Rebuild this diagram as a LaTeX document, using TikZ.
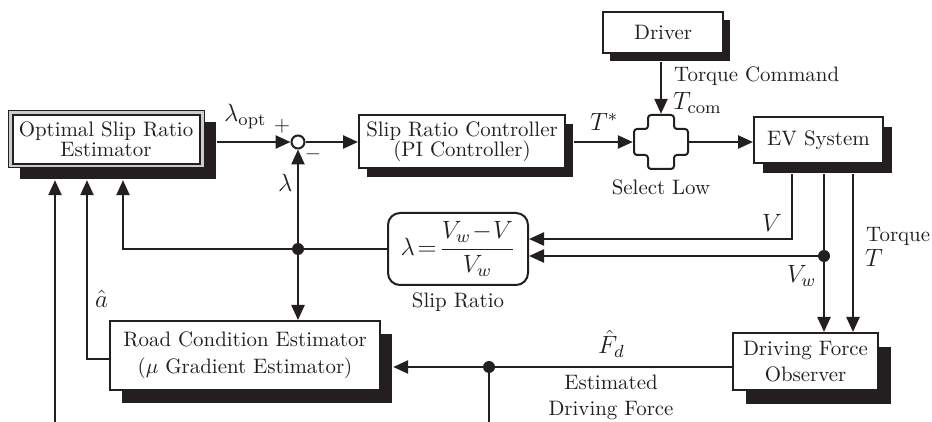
\RequirePackage{fix-cm}
\documentclass[tikz,border=0pt]{standalone}
\usetikzlibrary{arrows.meta,calc}
\definecolor{ink}{RGB}{35,31,32}
\begin{document}
\begin{tikzpicture}[x=0.5pt,y=-0.5pt,
  font=\fontsize{10.45}{12}\selectfont,
  line width=1.2pt, color=ink,
  blk/.style={draw=ink, fill=white, line width=1pt, align=center, inner sep=0pt},
  shd/.style={fill=ink, draw=none, inner sep=0pt},
  arr/.style={-{Triangle[length=7.5pt,width=6.5pt]}},
  jdot/.style={circle, fill=ink, inner sep=0pt, minimum size=6pt},
  lbl/.style={inner sep=0pt},
  mlbl/.style={inner sep=0pt, font=\fontsize{12.5}{15}\selectfont}]
\useasboundingbox (0,0) rectangle (932,422);

% --- blocks with their drop shadows ---
\node[shd, minimum width=98pt, minimum height=28.5pt] (estS) at (118,150.5) {};
\node[draw=ink, line width=0.5pt, fill=gray!40, minimum width=98pt, minimum height=28.5pt, inner sep=0pt] (est) at (106,139.5) {};
\node[blk, minimum width=93.5pt, minimum height=24.5pt, font=\fontsize{10.45}{10}\selectfont] (estIn) at (est.center) {Optimal Slip Ratio\\Estimator};

\node[shd, minimum width=103pt, minimum height=26.5pt] (srcS) at (470,150.5) {};
\node[blk, minimum width=103pt, minimum height=26.5pt, font=\fontsize{10.45}{10}\selectfont] (src) at (462,141.5) {Slip Ratio Controller\\(PI Controller)};

\node[shd, minimum width=60pt, minimum height=20.5pt] (drvS) at (670,40.5) {};
\node[blk, minimum width=60pt, minimum height=20.5pt] (drv) at (663,32.5) {Driver};

\node[shd, minimum width=64.5pt, minimum height=23pt] (evS) at (827.5,150) {};
\node[blk, minimum width=64.5pt, minimum height=23pt] (ev) at (818.5,140) {EV System};

\node[blk, rounded corners=6pt, minimum width=70pt, minimum height=36pt, font=\fontsize{12.5}{15}\selectfont] (slip) at (458,249) {$\lambda\!=\!\displaystyle\frac{V_w\!-\!V}{V_w}$};

\node[shd, minimum width=135pt, minimum height=34.5pt] (roadS) at (257,368.5) {};
\node[blk, minimum width=135pt, minimum height=34.5pt, font=\fontsize{10.45}{13.5}\selectfont] (road) at (245,355.5) {Road Condition Estimator\\($\mu$ Gradient Estimator)};

\node[shd, minimum width=72.5pt, minimum height=28.5pt] (dfoS) at (818.5,375.5) {};
\node[blk, minimum width=72.5pt, minimum height=28.5pt, font=\fontsize{10.45}{13}\selectfont] (dfo) at (805.5,361.5) {Driving Force\\Observer};

% summing junction
\node[circle, draw=ink, line width=1pt, fill=white, minimum size=6.5pt, inner sep=0pt] (sum) at (298,142) {};

% select-low block (cross shape)
\node[minimum size=27pt, inner sep=0pt] (sel) at (661,142) {};
\draw[line width=1pt, rounded corners=1.5pt]
  ([shift={(-6.5pt,13.5pt)}]sel.center) -- ++(13pt,0) -- ++(0,-7pt) -- ++(7pt,0)
  -- ++(0,-13pt) -- ++(-7pt,0) -- ++(0,-7pt) -- ++(-13pt,0) -- ++(0,7pt)
  -- ++(-7pt,0) -- ++(0,13pt) -- ++(7pt,0) -- cycle;

% --- branch points and free ends ---
\coordinate (jl) at (298,249);
\coordinate (c1) at (123,249);
\coordinate (c2) at (87,359);
\coordinate (b1) at (55,422);
\coordinate (v1) at (792,239);
\coordinate (jw) at (824,256);
\coordinate (tT) at (853,256);
\coordinate (jf) at (489,367);
\coordinate (b2) at (489,422);

% --- connectors ---
\draw[arr] (sum.west -| estS.east) -- (sum.west);
\draw[arr] (sum.east) -- (sum.east -| src.west);
\draw[arr] (sel.west -| srcS.east) -- (sel.west);
\draw[arr] (sel.north |- drvS.south) -- (sel.north);
\draw[arr] (sel.east) -- (sel.east -| ev.west);
\draw[arr] (evS.south -| v1) -- (v1) -- (v1 -| slip.east);
\draw (evS.south -| jw) -- (jw);
\draw[arr] (jw) -- (jw -| slip.east);
\draw[arr] (jw) -- (jw |- dfo.north);
\draw[arr] (evS.south -| tT) -- (tT |- dfo.north);
\draw (slip.west) -- (jl);
\draw[arr] (jl) -- (c1) -- (c1 |- estS.south);
\draw[arr] (jl) -- (sum.south);
\draw[arr] (jl) -- (jl |- road.north);
\draw[arr] (road.west |- c2) -- (c2) -- (c2 |- estS.south);
\draw[arr] (b1) -- (b1 |- estS.south);
\draw[arr] (dfo.west |- jf) -- (jf -| roadS.east);
\draw (jf) -- (b2);

\node[jdot] at (jl) {};
\node[jdot] at (jw) {};
\node[jdot] at (jf) {};

% --- labels ---
\node[mlbl, anchor=base west] at (223,122) {$\lambda_{\mathrm{opt}}$};
\node[lbl] at (282,126) {$+$};
\node[lbl] at (313,154) {$-$};
\node[mlbl, anchor=base west] at (277,192) {$\lambda$};
\node[mlbl, anchor=base west] at (589,131) {$T^*$};
\node[lbl, anchor=west] at (673,76) {Torque Command};
\node[mlbl, anchor=base west] at (672,110) {$T_{\mathrm{com}}$};
\node[lbl] at (661,187) {Select Low};
\node[mlbl, anchor=base west] at (761,232) {$V$};
\node[mlbl, anchor=base west] at (786,283) {$V_w$};
\node[lbl, anchor=west] at (865,236) {Torque};
\node[mlbl, anchor=base west] at (864,267) {$T$};
\node[lbl] at (458,302) {Slip Ratio};
\node[mlbl, anchor=base west] at (94,307) {$\hat{a}$};
\node[mlbl, anchor=base west] at (597,354) {$\hat{F}_d$};
\node[lbl, align=center, font=\fontsize{10.45}{13}\selectfont] at (611,397) {Estimated\\Driving Force};
\end{tikzpicture}
\end{document}
